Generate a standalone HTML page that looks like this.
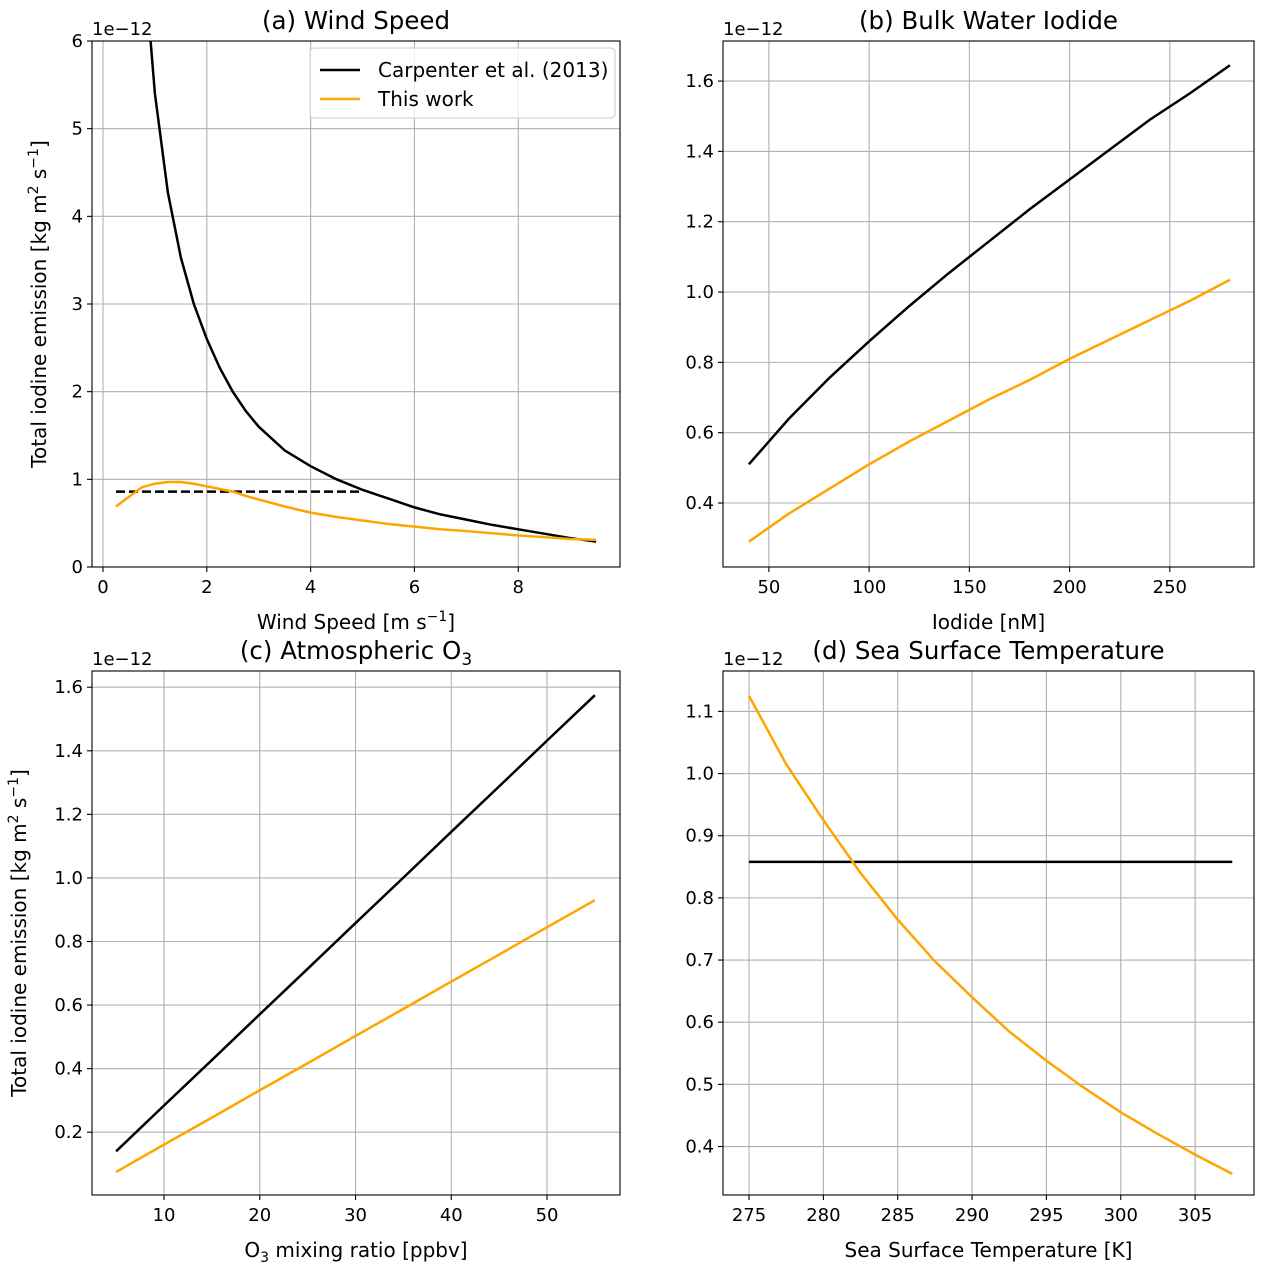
<!DOCTYPE html>
<html><head><meta charset="utf-8"><style>
body{margin:0;background:#fff;}
svg text{font-family:"DejaVu Sans","Liberation Sans",sans-serif;fill:#000;}
</style></head><body>
<svg id="fig" width="1266" height="1272" xmlns="http://www.w3.org/2000/svg"></svg>
<script>
// Panel (a) data
const aWind = [0.25,0.5,0.75,1.0,1.25,1.5,1.75,2.0,2.25,2.5,2.75,3.0,3.5,4.0,4.5,5.0,5.5,6.0,6.5,7.0,7.5,8.0,8.5,9.0,9.5];
const aCarp = [21.6,10.8,7.2,5.4,4.27,3.53,3.0,2.6,2.27,2.0,1.78,1.6,1.33,1.15,1.0,0.88,0.78,0.68,0.6,0.54,0.48,0.43,0.38,0.33,0.29];
const aThis = [0.69,0.8,0.91,0.95,0.97,0.97,0.95,0.92,0.89,0.86,0.81,0.77,0.69,0.62,0.57,0.53,0.49,0.46,0.43,0.41,0.385,0.36,0.34,0.32,0.31];
const aDashX = [0.25,5.0];
const aDashY = [0.86,0.86];
// Panel (b) data
const bIodide = [40,60,80,100,120,140,160,180,200,220,240,260,280];
const bCarp = [0.51,0.64,0.755,0.86,0.96,1.055,1.145,1.235,1.32,1.405,1.49,1.565,1.645];
const bThis = [0.29,0.37,0.44,0.51,0.575,0.635,0.695,0.75,0.81,0.865,0.92,0.975,1.035];
// Panel (c) data
const cO3 = [5,10,15,20,25,30,35,40,45,50,55];
const cCarp = [0.14,0.284,0.427,0.571,0.714,0.858,1.001,1.145,1.288,1.432,1.575];
const cThis = [0.075,0.161,0.246,0.332,0.417,0.503,0.588,0.674,0.759,0.845,0.93];
// Panel (d) data
const dSST = [275,277.5,280,282.5,285,287.5,290,292.5,295,297.5,300,302.5,305,307.5];
const dCarp = [0.858,0.858,0.858,0.858,0.858,0.858,0.858,0.858,0.858,0.858,0.858,0.858,0.858,0.858];
const dThis = [1.125,1.015,0.925,0.84,0.765,0.698,0.64,0.585,0.538,0.495,0.455,0.42,0.387,0.356];
// ticks
const aXTicks=[0,2,4,6,8], aYTicks=[0,1,2,3,4,5,6];
const bXTicks=[50,100,150,200,250], bYTicks=[0.4,0.6,0.8,1.0,1.2,1.4,1.6];
const cXTicks=[10,20,30,40,50], cYTicks=[0.2,0.4,0.6,0.8,1.0,1.2,1.4,1.6];
const dXTicks=[275,280,285,290,295,300,305], dYTicks=[0.4,0.5,0.6,0.7,0.8,0.9,1.0,1.1];

const NS="http://www.w3.org/2000/svg";
const fig=document.getElementById('fig');
function mk(tag,attrs,parent){const e=document.createElementNS(NS,tag);for(const k in attrs)e.setAttribute(k,attrs[k]);(parent||fig).appendChild(e);return e;}

function panel(p){
  const g=mk('g',{});
  
  
  const {x0,x1,y0,y1}=p.box;
  const sx=v=>x0+(v-p.xr[0])/(p.xr[1]-p.xr[0])*(x1-x0);
  const sy=v=>y1-(v-p.yr[0])/(p.yr[1]-p.yr[0])*(y1-y0);
  const cp='clip'+p.id;
  const cl=mk('clipPath',{id:cp},g);mk('rect',{x:x0,y:y0,width:x1-x0,height:y1-y0},cl);
  p.xt.forEach(t=>{const x=sx(t);
    const gl=mk('line',{x1:x,x2:x,y1:y0,y2:y1,stroke:'#b0b0b0','stroke-width':1.1},g);
    
    mk('line',{x1:x,x2:x,y1:y1,y2:y1+5,stroke:'#000','stroke-width':1.1},g);
    const tx=mk('text',{x:x,y:y1+26,'font-size':18,'text-anchor':'middle'},g);tx.textContent=p.xfmt(t);
    });
  p.yt.forEach(t=>{const y=sy(t);
    const gl=mk('line',{x1:x0,x2:x1,y1:y,y2:y,stroke:'#b0b0b0','stroke-width':1.1},g);
    
    mk('line',{x1:x0-5,x2:x0,y1:y,y2:y,stroke:'#000','stroke-width':1.1},g);
    const tx=mk('text',{x:x0-9,y:y+6,'font-size':18,'text-anchor':'end'},g);tx.textContent=p.yfmt(t);
    });
  p.series.forEach(s=>{
    const d=s.x.map((v,i)=>(i?'L':'M')+sx(v).toFixed(2)+','+sy(s.y[i]).toFixed(2)).join('');
    const pa=mk('path',{d:d,fill:'none',stroke:s.c,'stroke-width':2.5,'clip-path':'url(#'+cp+')'},g);
    if(s.dash)pa.setAttribute('stroke-dasharray','9,4');
    });
  const fr=mk('rect',{x:x0,y:y0,width:x1-x0,height:y1-y0,fill:'none',stroke:'#000','stroke-width':1.1},g);
  
  const t=mk('text',{x:(x0+x1)/2,y:y0-12,'font-size':24.5,'text-anchor':'middle'},g);t.innerHTML=p.title;
  
  const o=mk('text',{x:x0,y:y0-6,'font-size':18},g);o.textContent='1e\u221212';
  
  const xl=mk('text',{x:(x0+x1)/2,y:y1+62,'font-size':20,'text-anchor':'middle'},g);xl.innerHTML=p.xlabel;
  
  if(p.ylabel){const yl=mk('text',{x:0,y:0,'font-size':20,'text-anchor':'middle',transform:'translate('+p.ylx+','+((y0+y1)/2)+') rotate(-90)'},g);yl.innerHTML=p.ylabel;
    }
  return g;
}
const ylab='Total iodine emission [kg m<tspan font-size="14" dy="-8">2</tspan><tspan dy="8"> s</tspan><tspan font-size="14" dy="-8">\u22121</tspan><tspan dy="8">]</tspan>';
const f1=v=>v.toFixed(1), f0=v=>String(v);
panel({id:'a',name:'panel-wind-speed',box:{x0:92,x1:620,y0:41,y1:567},xr:[-0.212,9.96],yr:[0,6],xt:aXTicks,yt:aYTicks,xfmt:f0,yfmt:f0,
  title:'(a) Wind Speed',xlabel:'Wind Speed [m s<tspan font-size="14" dy="-8">\u22121</tspan><tspan dy="8">]</tspan>',ylabel:ylab,ylx:46,
  series:[{x:aWind,y:aCarp,c:'#000',n:'carpenter-line'},{x:aDashX,y:aDashY,c:'#000',dash:1,n:'carpenter-dashed-line'},{x:aWind,y:aThis,c:'#ffa500',n:'this-work-line'}]});
panel({id:'b',name:'panel-bulk-water-iodide',box:{x0:723,x1:1254,y0:41,y1:567},xr:[27.1,292.0],yr:[0.218,1.714],xt:bXTicks,yt:bYTicks,xfmt:f0,yfmt:f1,
  title:'(b) Bulk Water Iodide',xlabel:'Iodide [nM]',
  series:[{x:bIodide,y:bCarp,c:'#000',n:'carpenter-line'},{x:bIodide,y:bThis,c:'#ffa500',n:'this-work-line'}]});
panel({id:'c',name:'panel-atmospheric-o3',box:{x0:92,x1:620,y0:671,y1:1195},xr:[2.48,57.62],yr:[0.0025,1.651],xt:cXTicks,yt:cYTicks,xfmt:f0,yfmt:f1,
  title:'(c) Atmospheric O<tspan font-size="17" dy="6">3</tspan>',xlabel:'O<tspan font-size="14" dy="5">3</tspan><tspan dy="-5"> mixing ratio [ppbv]</tspan>',ylabel:ylab,ylx:26,
  series:[{x:cO3,y:cCarp,c:'#000',n:'carpenter-line'},{x:cO3,y:cThis,c:'#ffa500',n:'this-work-line'}]});
panel({id:'d',name:'panel-sea-surface-temperature',box:{x0:723,x1:1254,y0:671,y1:1195},xr:[273.25,308.96],yr:[0.322,1.165],xt:dXTicks,yt:dYTicks,xfmt:f0,yfmt:f1,
  title:'(d) Sea Surface Temperature',xlabel:'Sea Surface Temperature [K]',
  series:[{x:dSST,y:dCarp,c:'#000',n:'carpenter-line'},{x:dSST,y:dThis,c:'#ffa500',n:'this-work-line'}]});

// legend
const lg=mk('g',{});


mk('rect',{x:310,y:48,width:305,height:70,rx:4,fill:'#fff','fill-opacity':0.8,stroke:'#ccc','stroke-width':1},lg);
mk('line',{x1:320,x2:360,y1:70,y2:70,stroke:'#000','stroke-width':2.5},lg);
mk('line',{x1:320,x2:360,y1:99,y2:99,stroke:'#ffa500','stroke-width':2.5},lg);
const l1=mk('text',{x:378,y:77,'font-size':20},lg);l1.textContent='Carpenter et al. (2013)';

const l2=mk('text',{x:378,y:106,'font-size':20},lg);l2.textContent='This work';

</script>
</body></html>
